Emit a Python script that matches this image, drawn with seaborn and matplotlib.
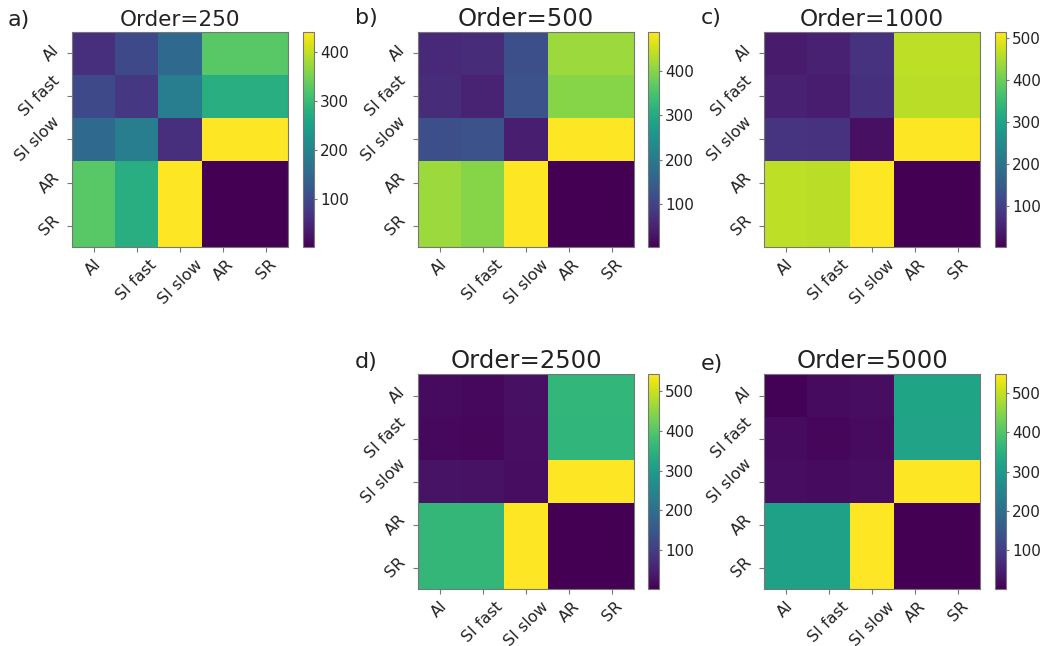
"""
Pairwise distance heatmaps for different orders
"""

import numpy as np
import pandas as pd
import matplotlib
matplotlib.use("Agg")
import matplotlib.pyplot as plt
import seaborn as sns

# Data
labels = ["AI", "SI fast", "SI slow", "AR", "SR"]

order_250 = [
    [62, 99, 150, 327, 327],
    [99, 72, 186, 278, 278],
    [150, 186, 62, 441, 441],
    [327, 278, 441, 2, 3],
    [327, 278, 441, 3, 2],
]
order_500 = [
    [58, 62, 119, 416, 416],
    [62, 48, 124, 401, 401],
    [119, 124, 42, 489, 489],
    [416, 401, 489, 2, 3],
    [416, 401, 489, 3, 2],
]
order_1000 = [
    [40, 50, 76, 464, 464],
    [50, 44, 74, 462, 462],
    [80, 76, 24, 515, 515],
    [464, 462, 515, 2, 3],
    [464, 462, 515, 3, 2],
]
order_2500 = [
    [18, 13, 24, 358, 358],
    [13, 12, 22, 356, 356],
    [28, 27, 20, 543, 543],
    [360, 360, 543, 2, 3],
    [360, 360, 543, 3, 2],
]
order_5000 = [
    [5, 17, 20, 320, 320],
    [17, 12, 18, 318, 318],
    [20, 18, 20, 548, 548],
    [314, 314, 548, 2, 3],
    [314, 314, 548, 3, 2],
]

orders = [250, 500, 1000, 2500, 5000]
matrices = [order_250, order_500, order_1000, order_2500, order_5000]
panel_tags = ["a)", "b)", "c)", "d)", "e)"]

W, H = 1044, 646

# pixel boxes: (heatmap x, cbar x, top y), heatmap size 216x215
boxes = [(72, 303, 32), (418, 648, 32), (764, 995, 32), (418, 648, 374), (764, 995, 374)]
title_sizes = [15.5, 17.5, 16.7, 17.5, 17.5]
tag_pos = [(8, 20), (355, 18), (701, 18), (355, 362), (701, 364)]

TEXT = "#222222"


def px_box(x, y, w, h):
    return [x / W, 1 - (y + h) / H, w / W, h / H]


def draw_panel(fig, i):
    hx, cx, top = boxes[i]
    ax = fig.add_axes(px_box(hx, top, 216, 215))
    cax = fig.add_axes(px_box(cx, top, 11, 215))
    df = pd.DataFrame(matrices[i], index=labels, columns=labels)
    sns.heatmap(df, cmap="viridis", ax=ax, cbar_ax=cax,
                xticklabels=labels, yticklabels=labels)
    ax.set_aspect("auto")
    for s in ax.spines.values():
        s.set_visible(True)
        s.set_color("#777777")
        s.set_linewidth(0.8)
    ax.tick_params(axis="both", length=3.5, width=0.8, color="#777777",
                   labelsize=11.5, labelcolor=TEXT)
    plt.setp(ax.get_xticklabels(), rotation=45, ha="center")
    plt.setp(ax.get_yticklabels(), rotation=45, ha="right", va="center")
    ax.set_title(f"Order={orders[i]}", fontsize=title_sizes[i], pad=4, color=TEXT)

    cax.tick_params(length=2.5, width=0.8, pad=2, color="#777777",
                    labelsize=11, labelcolor=TEXT)
    cbar = ax.collections[0].colorbar
    cbar.outline.set_visible(True)
    cbar.outline.set_edgecolor("#777777")
    cbar.outline.set_linewidth(0.8)

    tx, ty = tag_pos[i]
    fig.text(tx / W, 1 - ty / H, panel_tags[i], fontsize=16, va="center", ha="left", color=TEXT)


def main():
    fig = plt.figure(figsize=(W / 100, H / 100), dpi=100)
    for i in range(len(orders)):
        draw_panel(fig, i)
    fig.savefig("out.png", dpi=100)


if __name__ == "__main__":
    main()
